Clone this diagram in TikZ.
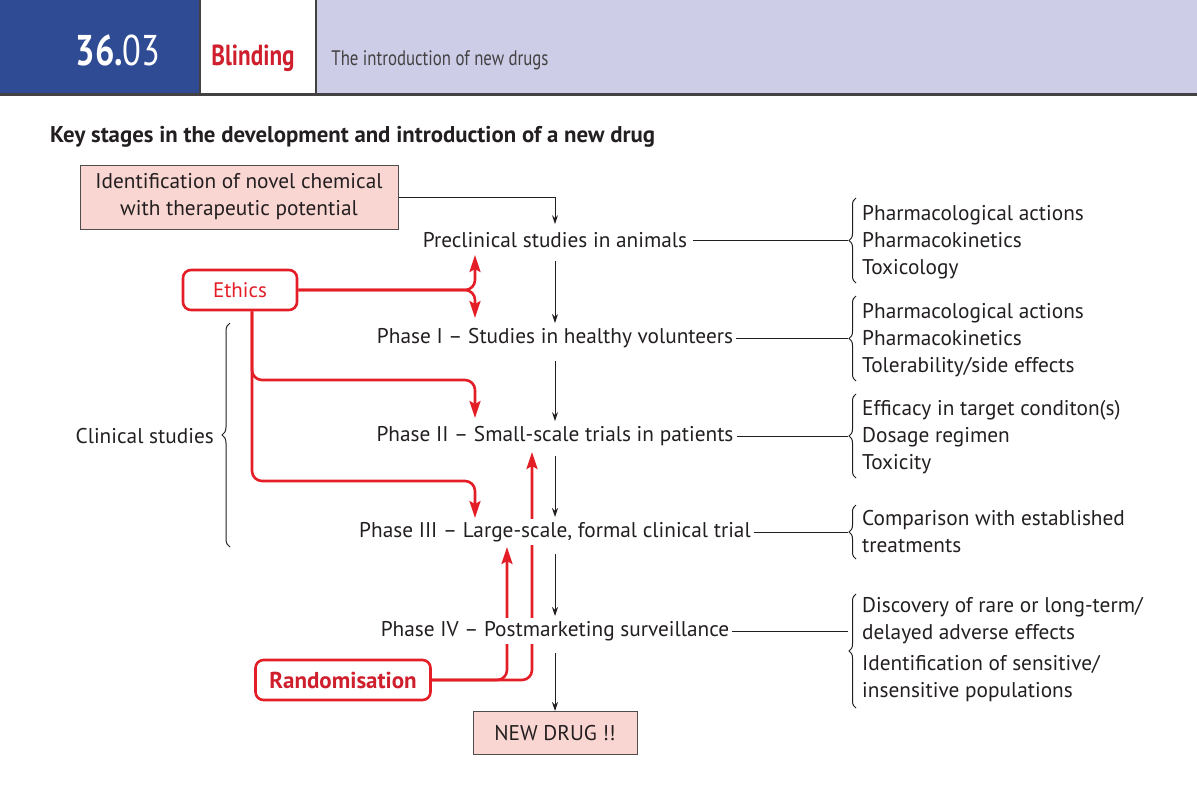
\documentclass[tikz,border=0pt]{standalone}
\usepackage{fontspec}
\setmainfont{PT Sans}
\newfontfamily\condfont[FakeStretch=0.8]{PT Sans}
\usetikzlibrary{arrows.meta,decorations.pathreplacing}
\definecolor{hdrblue}{HTML}{2F4B94}
\definecolor{hdrlav}{HTML}{CDCDE7}
\definecolor{ink}{HTML}{231F20}
\definecolor{myred}{HTML}{E31E26}
\definecolor{darkred}{HTML}{CF1F2D}
\definecolor{boxpink}{HTML}{F9D6D1}
\begin{document}
\begin{tikzpicture}[x=1pt,y=-1pt,
  txt/.style={font=\fontsize{21.3}{27}\selectfont, text=ink, inner sep=2pt},
  phase/.style={txt, fill=white, inner sep=3pt},
  lst/.style={txt, align=left, anchor=west, inner sep=0pt},
  pinkbox/.style={txt, draw=ink!80, line width=1pt, fill=boxpink, align=center},
  redbox/.style={draw=myred, line width=2.6pt, rounded corners=8pt, fill=white, font=\fontsize{21}{24}\selectfont},
  blk/.style={draw=ink, line width=1pt, -{Stealth[length=9pt,width=6pt]}},
  plain/.style={draw=ink, line width=1pt},
  redl/.style={draw=myred, line width=2.6pt, rounded corners=10pt},
  redarr/.style={redl, -{Stealth[length=17pt,width=11pt,inset=3pt]}},
  brc/.style={draw=ink, line width=1pt, decorate, decoration={brace, amplitude=7pt}}
]
\useasboundingbox (0,0) rectangle (1197,804);
% header
\fill[hdrblue] (0,0) rectangle (200,93);
\fill[hdrlav] (316,0) rectangle (1197,93);
\draw[ink!85, line width=2pt] (200,0) -- (200,93);
\draw[ink!85, line width=2pt] (316,0) -- (316,93);
\draw[ink!85, line width=3pt] (0,94) -- (1197,94);
\node[text=white, inner sep=0pt] (num) at (118,50) {\condfont\fontsize{43}{43}\selectfont\bfseries 36.\mdseries 03};
\node[text=darkred, inner sep=0pt] (blind) at (253,58) {\condfont\fontsize{29}{29}\selectfont\bfseries Blinding};
\node[text=ink!85, inner sep=0pt] (hdr) at (440,60) {\condfont\fontsize{21}{21}\selectfont The introduction of new drugs};
% title
\node[txt, anchor=west, inner sep=0pt] (title) at (50,137) {\fontsize{22.8}{27}\selectfont\bfseries Key stages in the development and introduction of a new drug};
% boxes
\node[pinkbox, minimum width=318pt, minimum height=64pt] (ident) at (239,197) {Identification of novel chemical\\with therapeutic potential};
\node[pinkbox, minimum width=164pt, minimum height=43pt] (new) at (555,733) {NEW DRUG !!};
% red connectors (drawn beneath text)
\node[redbox, text=myred, minimum width=114pt, minimum height=40pt] (eth) at (240,290) {Ethics};
\node[redbox, text=darkred, minimum width=175pt, minimum height=40pt] (rand) at (343,680) {\fontsize{23}{24}\selectfont\bfseries Randomisation};
\draw[redarr] (eth.east) -- (475,290) -- (475,255);
\draw[redarr] (eth.east) -- (475,290) -- (475,318);
\draw[redarr] ([xshift=12pt]eth.south) -- (252,380) -- (475,380) -- (475,418);
\draw[redarr] ([xshift=12pt]eth.south) -- (252,481) -- (475,481) -- (475,518);
\draw[redarr] (rand.east) -- (507,680) -- (507,547);
\draw[redarr] (rand.east) -- (532,680) -- (532,452);
% phases
\node[phase] (pre) at (555,240) {Preclinical studies in animals};
\node[phase] (p1) at (555,338) {Phase I -- Studies in healthy volunteers};
\node[phase] (p2) at (555,436) {Phase II -- Small-scale trials in patients};
\node[phase] (p3) at (555,532) {Phase III -- Large-scale, formal clinical trial};
\node[phase] (p4) at (555,631) {Phase IV -- Postmarketing surveillance};
% black arrows
\draw[blk] (ident.east) -| ([yshift=5pt]pre.north);
\draw[blk, shorten <=10pt, shorten >=2pt] (pre.south) -- (p1.north);
\draw[blk, shorten <=10pt, shorten >=2pt] (p1.south) -- (p2.north);
\draw[blk, shorten <=7pt, shorten >=2pt] (p2.south) -- (p3.north);
\draw[blk, shorten <=9pt, shorten >=2pt] (p3.south) -- (p4.north);
\draw[blk, shorten <=9pt, shorten >=0pt] (p4.south) -- (new.north);
% right lists
\coordinate (b0) at (848,240);
\coordinate (b1) at (848,338);
\coordinate (b2) at (848,436);
\coordinate (b3) at (848,532);
\coordinate (b4) at (848,631);
\draw[plain] ([xshift=3pt]pre.east) -- (b0);
\draw[plain] (p1.east) -- (b1);
\draw[plain] (p2.east) -- (b2);
\draw[plain] (p3.east) -- (b3);
\draw[plain] (p4.east) -- (b4);
\draw[brc] (856,283) -- (856,198);
\draw[brc] (856,381) -- (856,296);
\draw[brc] (856,478) -- (856,394);
\draw[brc] (856,559) -- (856,505);
\draw[brc] (856,708) -- (856,594);
\node[lst] (l0) at (862,242) {Pharmacological actions\\Pharmacokinetics\\Toxicology};
\node[lst] (l1) at (862,340) {Pharmacological actions\\Pharmacokinetics\\Tolerability/side effects};
\node[lst] (l2) at (862,437) {Efficacy in target conditon(s)\\Dosage regimen\\Toxicity};
\node[lst] (l3) at (862,532) {Comparison with established\\treatments};
\node[lst] (l4) at (862,650) {Discovery of rare or long-term/\\delayed adverse effects\\[4pt]Identification of sensitive/\\insensitive populations};
% clinical studies
\draw[brc, decoration={brace, amplitude=8pt}] (230,547) -- (230,323);
\node[txt, anchor=east] (clin) at (216,436) {Clinical studies};
\end{tikzpicture}
\end{document}
